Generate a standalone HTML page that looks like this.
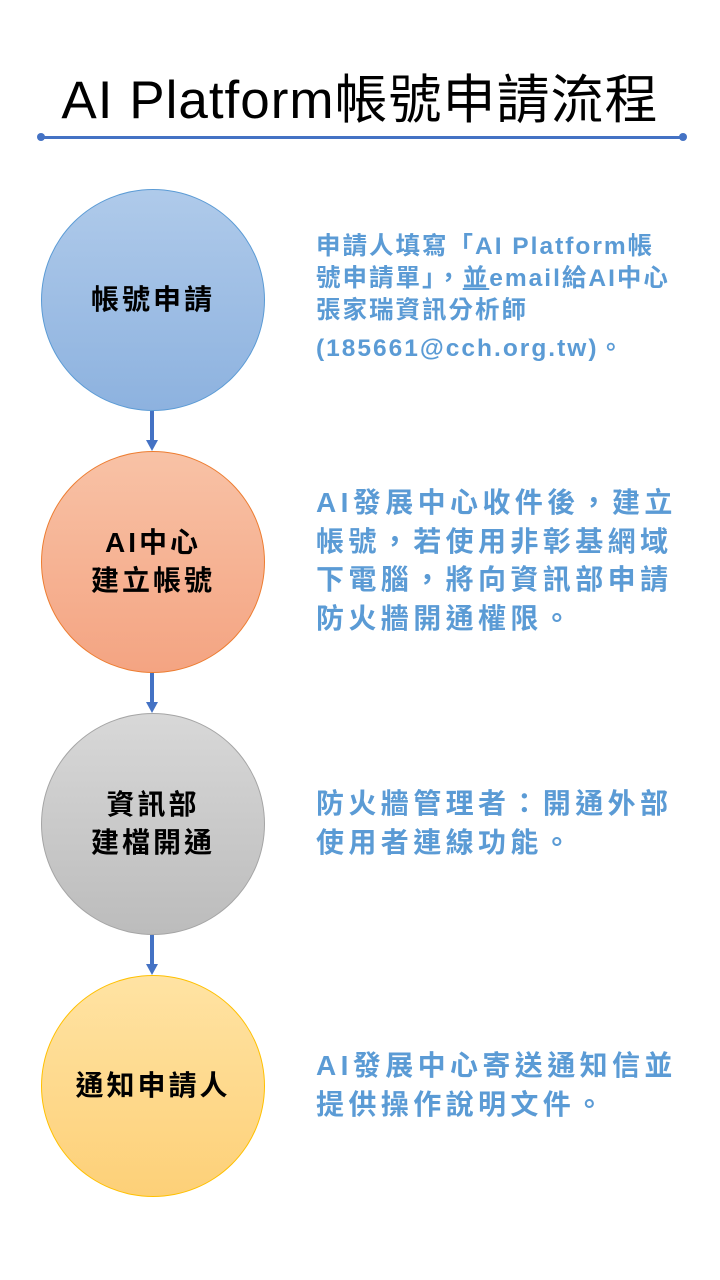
<!DOCTYPE html>
<html><head><meta charset="utf-8"><style>
body{margin:0;width:720px;height:1280px;background:#fff;position:relative;overflow:hidden;font-family:"Liberation Sans","Noto Sans CJK TC",sans-serif}
.t{position:absolute;left:0;width:720px;top:65px;text-align:center;font-size:53px;line-height:72px;color:#000;letter-spacing:1px}
.c{position:absolute;left:41px;width:224px;height:222px;border-radius:50%;box-sizing:border-box;display:flex;align-items:center;justify-content:center;text-align:center;font-weight:bold;font-size:28px;line-height:38px;color:#000;letter-spacing:3px}
.d{position:absolute;left:316px;width:400px;color:#5b9bd5;font-weight:bold;font-size:28px;line-height:38.5px;letter-spacing:4.4px;white-space:nowrap}
.a{position:absolute;left:150px;width:4px;background:#4472c4}
.h{position:absolute;left:146px;width:0;height:0;border-left:6px solid transparent;border-right:6px solid transparent;border-top:11px solid #4472c4}
</style></head><body>
<div class="t">AI Platform帳號申請流程</div>
<div style="position:absolute;left:40px;top:135.5px;width:643px;height:3px;background:#4472c4"></div>
<div style="position:absolute;left:37px;top:133px;width:8px;height:8px;border-radius:50%;background:#4472c4"></div>
<div style="position:absolute;left:679px;top:133px;width:8px;height:8px;border-radius:50%;background:#4472c4"></div>

<div class="c" style="top:189px;background:linear-gradient(#afcaea,#8db2df);border:1px solid #5b9bd5">帳號申請</div>
<div class="c" style="top:451px;background:linear-gradient(#f8c2a6,#f4a482);border:1px solid #ed7d31">AI中心<br>建立帳號</div>
<div class="c" style="top:713px;background:linear-gradient(#d8d8d8,#bcbcbc);border:1px solid #a5a5a5">資訊部<br>建檔開通</div>
<div class="c" style="top:975px;background:linear-gradient(#ffe3a3,#fdd078);border:1px solid #ffc000">通知申請人</div>

<div class="a" style="top:411px;height:30px"></div><div class="h" style="top:440px"></div>
<div class="a" style="top:673px;height:30px"></div><div class="h" style="top:702px"></div>
<div class="a" style="top:935px;height:30px"></div><div class="h" style="top:964px"></div>

<div class="d" style="top:231px;font-size:24.5px;line-height:32px;letter-spacing:2px">申請人填寫「AI Platform帳<br>號申請單」，<u>並</u>email給AI中心<br>張家瑞資訊分析師<br><span style="display:inline-block;margin-top:6px">(185661@cch.org.tw)。</span></div>
<div class="d" style="top:484px">AI發展中心收件後，建立<br>帳號，若使用非彰基網域<br>下電腦，將向資訊部申請<br>防火牆開通權限。</div>
<div class="d" style="top:785px">防火牆管理者：開通外部<br>使用者連線功能。</div>
<div class="d" style="top:1047px">AI發展中心寄送通知信並<br>提供操作說明文件。</div>
</body></html>
